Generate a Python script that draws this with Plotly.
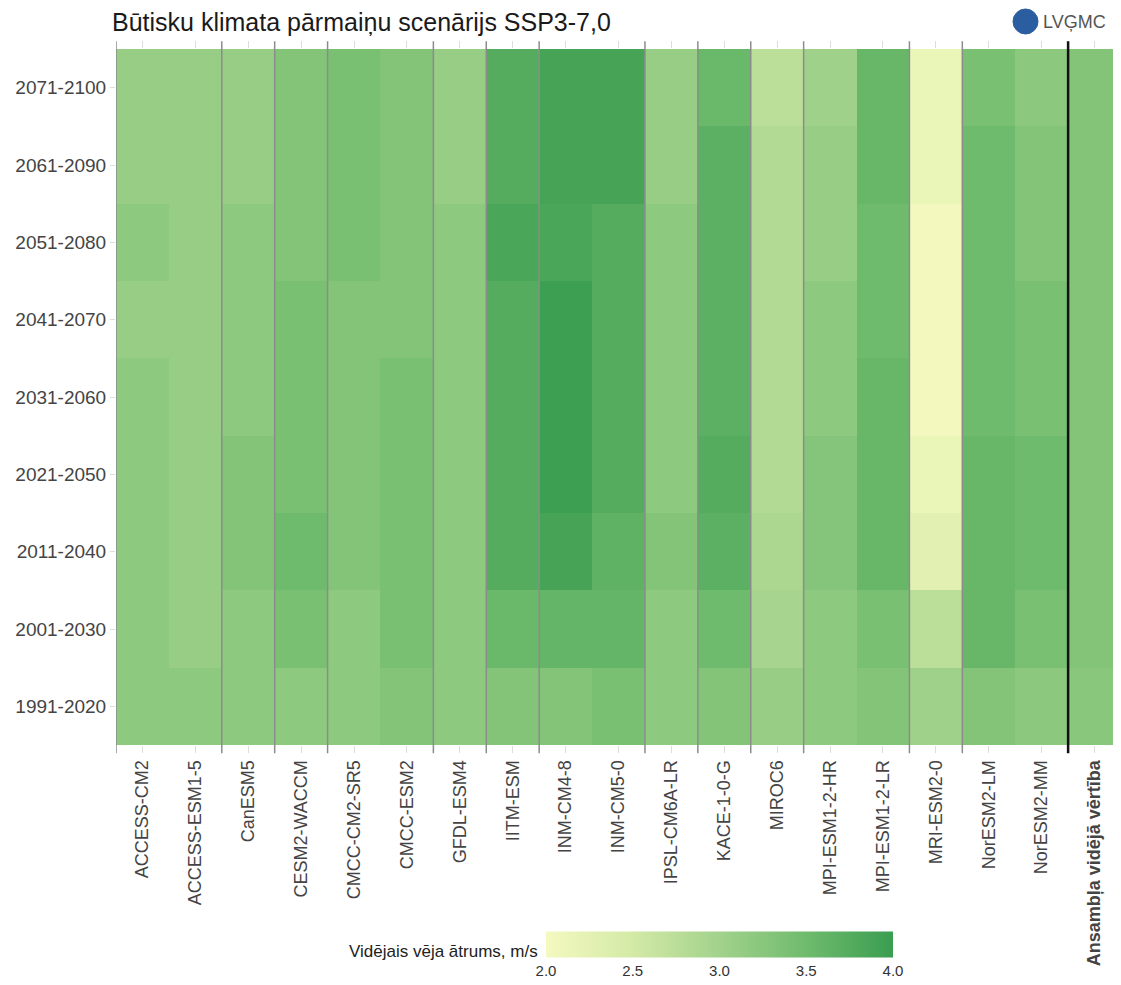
import plotly.graph_objects as go

models = ["ACCESS-CM2", "ACCESS-ESM1-5", "CanESM5", "CESM2-WACCM", "CMCC-CM2-SR5",
          "CMCC-ESM2", "GFDL-ESM4", "IITM-ESM", "INM-CM4-8", "INM-CM5-0",
          "IPSL-CM6A-LR", "KACE-1-0-G", "MIROC6", "MPI-ESM1-2-HR", "MPI-ESM1-2-LR",
          "MRI-ESM2-0", "NorESM2-LM", "NorESM2-MM", "Ansambļa vidējā vērtība"]

# periods bottom -> top
periods = ["1991-2020", "2001-2030", "2011-2040", "2021-2050", "2031-2060",
           "2041-2070", "2051-2080", "2061-2090", "2071-2100"]

# values per model, listed bottom (1991-2020) -> top (2071-2100), m/s
access_cm2    = [3.20, 3.20, 3.20, 3.20, 3.20, 3.10, 3.20, 3.10, 3.10]
access_esm15  = [3.20, 3.10, 3.10, 3.10, 3.10, 3.10, 3.10, 3.10, 3.10]
canesm5       = [3.20, 3.20, 3.30, 3.30, 3.20, 3.20, 3.20, 3.10, 3.10]
cesm2_waccm   = [3.20, 3.40, 3.50, 3.40, 3.40, 3.40, 3.30, 3.30, 3.30]
cmcc_cm2_sr5  = [3.20, 3.20, 3.30, 3.30, 3.30, 3.30, 3.40, 3.40, 3.40]
cmcc_esm2     = [3.30, 3.40, 3.40, 3.40, 3.40, 3.30, 3.30, 3.30, 3.30]
gfdl_esm4     = [3.20, 3.20, 3.20, 3.20, 3.20, 3.20, 3.20, 3.10, 3.10]
iitm_esm      = [3.30, 3.55, 3.75, 3.75, 3.75, 3.75, 3.85, 3.75, 3.75]
inm_cm4_8     = [3.30, 3.60, 3.88, 3.97, 3.97, 3.97, 3.85, 3.88, 3.88]
inm_cm5_0     = [3.40, 3.60, 3.65, 3.75, 3.75, 3.75, 3.75, 3.88, 3.88]
ipsl_cm6a_lr  = [3.20, 3.20, 3.30, 3.20, 3.20, 3.20, 3.20, 3.10, 3.10]
kace_1_0_g    = [3.30, 3.50, 3.68, 3.75, 3.68, 3.68, 3.68, 3.68, 3.55]
miroc6        = [3.10, 2.95, 2.90, 2.83, 2.83, 2.83, 2.83, 2.83, 2.75]
mpi_esm12_hr  = [3.20, 3.20, 3.28, 3.28, 3.20, 3.20, 3.10, 3.10, 3.03]
mpi_esm12_lr  = [3.30, 3.40, 3.57, 3.57, 3.57, 3.50, 3.50, 3.57, 3.57]
mri_esm2_0    = [3.03, 2.75, 2.28, 2.15, 2.03, 2.03, 2.03, 2.15, 2.15]
noresm2_lm    = [3.30, 3.57, 3.57, 3.57, 3.50, 3.50, 3.50, 3.50, 3.40]
noresm2_mm    = [3.22, 3.40, 3.50, 3.50, 3.40, 3.40, 3.30, 3.30, 3.22]
ensemble_mean = [3.25, 3.30, 3.30, 3.30, 3.30, 3.30, 3.30, 3.30, 3.30]

columns = [access_cm2, access_esm15, canesm5, cesm2_waccm, cmcc_cm2_sr5, cmcc_esm2,
           gfdl_esm4, iitm_esm, inm_cm4_8, inm_cm5_0, ipsl_cm6a_lr, kace_1_0_g,
           miroc6, mpi_esm12_hr, mpi_esm12_lr, mri_esm2_0, noresm2_lm, noresm2_mm,
           ensemble_mean]

# column boundaries (before index) where model-family separators are drawn
separators = [0, 2, 3, 4, 6, 7, 8, 10, 11, 12, 13, 15, 16]
ensemble_sep = 18

colorbar_ticks = [2.0, 2.5, 3.0, 3.5, 4.0]

z = [[columns[j][i] for j in range(len(models))] for i in range(len(periods))]

colorscale = [
    [0.0, "#f4f9c0"],
    [0.25, "#d3eaa6"],
    [0.5, "#a2d28c"],
    [0.75, "#6fbb6d"],
    [1.0, "#3a9d50"],
]

FONT = "Liberation Sans, Arial, sans-serif"
W, H = 1113, 977          # page adds an 8px body margin
ML, MT, MR, MB = 108, 41, 0, 240
PW = W - ML - MR          # 1005
PH = H - MT - MB          # 696

def px_x(x):  # page x -> paper
    return (x - 8 - ML) / PW

def px_y(y):  # page y -> paper
    return (H - MB - (y - 8)) / PH

xidx = list(range(len(models)))
ticktext = models[:-1] + ["<b>" + models[-1] + "</b>"]

fig = go.Figure()
fig.add_trace(go.Heatmap(
    z=z, x=xidx, y=periods,
    zmin=2.0, zmax=4.0, colorscale=colorscale,
    hovertemplate="%{y}<br>%{z:.2f} m/s<extra></extra>",
    colorbar=dict(
        orientation="h",
        x=px_x(719.5), xanchor="center",
        y=px_y(953), yanchor="middle",
        len=367, lenmode="pixels",
        thickness=26,
        outlinewidth=0,
        tickvals=colorbar_ticks,
        tickformat=".1f",
        ticks="",
        tickfont=dict(family=FONT, size=15, color="#333"),
    ),
))

line_y0 = -0.012
line_y1 = 1.011
for b in separators:
    fig.add_shape(type="line", xref="x", yref="paper",
                  x0=b - 0.5, x1=b - 0.5, y0=line_y0, y1=line_y1,
                  line=dict(color="#8c8c8c", width=1.5))
fig.add_shape(type="line", xref="x", yref="paper",
              x0=ensemble_sep - 0.5, x1=ensemble_sep - 0.5, y0=line_y0, y1=line_y1,
              line=dict(color="#111111", width=2.5))

# logo
fig.add_shape(type="circle", xref="paper", yref="paper",
              x0=px_x(1013), x1=px_x(1038),
              y0=px_y(34), y1=px_y(9),
              fillcolor="#2a5ea0", line=dict(color="#2a5ea0", width=1))
fig.add_annotation(xref="paper", yref="paper",
                   x=px_x(1041), y=px_y(22),
                   xanchor="left", yanchor="middle", showarrow=False,
                   text="LVĢMC",
                   font=dict(family=FONT, size=18, color="#555"))

# colorbar title
fig.add_annotation(xref="paper", yref="paper",
                   x=px_x(540), y=px_y(951),
                   xanchor="right", yanchor="middle", showarrow=False,
                   text="Vidējais vēja ātrums, m/s",
                   font=dict(family=FONT, size=17, color="#222"))

fig.update_layout(
    width=W, height=H,
    margin=dict(l=ML, r=MR, t=MT, b=MB),
    paper_bgcolor="white", plot_bgcolor="white",
    title=dict(text="Būtisku klimata pārmaiņu scenārijs SSP3-7,0",
               x=(112 - 8) / W, xanchor="left", xref="container",
               y=1 - (22 - 8) / H, yanchor="middle", yref="container",
               font=dict(family=FONT, size=25, color="#1a1a1a")),
    xaxis=dict(
        tickmode="array", tickvals=xidx, ticktext=ticktext,
        tickangle=-90, ticks="outside", ticklen=7, tickcolor="#dddddd",
        mirror="ticks", showline=False, showgrid=False, zeroline=False,
        range=[-0.5, len(models) - 0.5],
        tickfont=dict(family=FONT, size=18, color="#444"),
    ),
    yaxis=dict(
        type="category", categoryorder="array", categoryarray=periods,
        ticks="outside", ticklen=5, tickcolor="#dddddd",
        showgrid=False, zeroline=False, showline=False,
        tickfont=dict(family=FONT, size=19, color="#444"),
    ),
)

fig.write_html("out.html")
